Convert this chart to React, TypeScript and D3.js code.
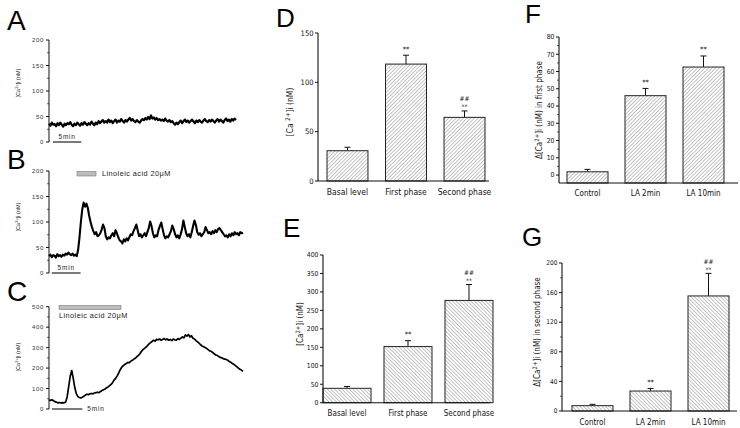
import React from "react";
import * as d3 from "d3";

// ---- data ----
const traceStep = 0.25; // minutes between samples

// panel A, basal [Ca2+]i (nM)
const traceA = [
  36, 32, 38, 34, 35, 31, 37, 33, 38, 34, 30, 36, 33, 37, 35, 39, 34, 31, 36, 33,
  38, 35, 32, 37, 34, 39, 36, 33, 37, 34, 40, 36, 33, 38, 35, 41, 37, 40, 43, 38,
  41, 38, 44, 39, 42, 37, 41, 44, 38, 42, 40, 45, 41, 38, 43, 40, 44, 47, 42, 45,
  41, 39, 43, 40, 38, 42, 45, 43, 47, 44, 49, 45, 52, 46, 48, 44, 47, 43, 45, 42,
  44, 41, 46, 42, 40, 43, 39, 41, 37, 34, 38, 35, 39, 42, 37, 41, 44, 39, 42, 38,
  41, 44, 40, 37, 42, 39, 43, 40, 38, 42, 45, 41, 39, 43, 40, 44, 41, 38, 42, 45,
  40, 44, 41, 38, 43, 46, 41, 44, 40, 45, 42, 46, 43,
];

// panel B, linoleic acid 20uM, oscillating response
const traceB = [
  33, 36, 31, 35, 34, 30, 37, 33, 35, 32, 36, 34, 38, 36, 40, 37, 35, 38, 34, 36,
  33, 45, 70, 100, 125, 138, 130, 136, 128, 112, 100, 90, 82, 76, 80, 72, 74, 78, 85, 95,
  88, 72, 66, 70, 68, 74, 78, 72, 84, 78, 70, 64, 62, 58, 66, 62, 68, 64, 70, 76,
  74, 82, 88, 95, 84, 72, 76, 70, 74, 78, 72, 80, 88, 101, 92, 78, 70, 74, 72, 84,
  92, 99, 86, 74, 68, 72, 70, 76, 82, 93, 86, 76, 70, 74, 68, 76, 86, 103, 90, 78,
  72, 76, 70, 80, 92, 103, 94, 80, 75, 78, 72, 76, 80, 90, 84, 78, 80, 76, 82, 78,
  84, 80, 86, 88, 84, 80, 76, 72, 74, 70, 76, 72, 78, 74, 80, 76, 78, 74, 80, 78,
  79,
];

// panel C, linoleic acid 20uM, sustained response
const traceC = [
  44, 42, 45, 40, 36, 33, 30, 32, 29, 31, 30, 34, 60, 110, 160, 188, 150, 105, 75, 62,
  56, 54, 58, 62, 68, 72, 70, 74, 76, 74, 78, 80, 82, 80, 86, 90, 94, 98, 104, 108,
  114, 120, 130, 142, 150, 162, 176, 192, 205, 212, 218, 222, 228, 226, 234, 238, 244, 248, 256, 262,
  270, 282, 290, 296, 302, 310, 318, 324, 330, 336, 332, 340, 338, 342, 336, 340, 344, 338, 342, 336,
  340, 334, 342, 338, 336, 344, 340, 346, 352, 348, 362, 356, 364, 352, 358, 346, 342, 334, 328, 322,
  314, 308, 304, 300, 296, 290, 284, 282, 276, 270, 264, 262, 256, 252, 250, 246, 244, 242, 238, 232,
  228, 222, 218, 212, 206, 200, 194, 190, 184,
];

const phaseCategories = ["Basal level", "First phase", "Second phase"];
const laCategories = ["Control", "LA 2min", "LA 10min"];

const valuesD = [30.7, 118.5, 64.5];
const errorsD = [3.5, 9, 6.5];
const marksD = [[], ["**"], ["##", "**"]];

const valuesE = [39, 152, 277];
const errorsE = [5, 16, 43];
const marksE = [[], ["**"], ["##", "**"]];

const valuesF = [1.9, 46, 62.6];
const errorsF = [1.4, 4.2, 6.4];
const marksF = [[], ["**"], ["**"]];

const valuesG = [7.2, 27, 155.5];
const errorsG = [1.8, 3.5, 30.5];
const marksG = [[], ["**"], ["##", "**"]];

// ---- styles ----
const sansFont = "'Liberation Sans', Arial, sans-serif";
const narrowFont = "'Liberation Sans Narrow', 'Arial Narrow', 'DejaVu Sans Condensed', sans-serif";
const ink = "#111";

function CaLabel({ x, y, size, prefix, suffix, gap }: any) {
  return (
    <text transform={`translate(${x},${y}) rotate(-90)`} textAnchor="middle" fontSize={size} fill={ink}>
      {prefix}[Ca{gap ? " " : ""}
      <tspan dy={-size * 0.4} fontSize={size * 0.75}>2+</tspan>
      <tspan dy={size * 0.4}>]i (nM){suffix}</tspan>
    </text>
  );
}

function TracePanel(p: any) {
  const x = d3.scaleLinear().domain([0, p.tMax]).range(p.xRange);
  const y = d3.scaleLinear().domain([0, p.yMax]).range([p.yBottom, p.yTop]);
  const line = d3
    .line<number>()
    .x((_, i) => x(i * traceStep))
    .y(d => y(d));
  const major = d3.range(0, p.yMax + 1, p.majorStep);
  const minor = d3.range(p.majorStep / 2, p.yMax, p.majorStep);
  const ax = p.xRange[0];
  const bx0 = x(p.barT[0]);
  const bx1 = x(p.barT[1]);
  return (
    <g fontFamily={sansFont}>
      <text x={p.letterPos[0]} y={p.letterPos[1]} fontSize={28} fill="#000">
        {p.letter}
      </text>
      <line x1={ax} x2={ax} y1={y(p.yMax)} y2={y(0)} stroke={ink} strokeWidth={1} />
      {major.map(v => (
        <g key={v}>
          <line x1={ax - 3} x2={ax} y1={y(v)} y2={y(v)} stroke={ink} />
          <text
            x={ax - 5}
            y={y(v)}
            dy="0.35em"
            textAnchor="end"
            fontSize={6}
            letterSpacing={0.7}
            fill="#333"
          >
            {v}
          </text>
        </g>
      ))}
      {minor.map(v => (
        <line key={v} x1={ax - 1.8} x2={ax} y1={y(v)} y2={y(v)} stroke={ink} strokeWidth={0.8} />
      ))}
      <CaLabel x={20} y={p.labelY} size={5.5} prefix="" suffix="" />
      <path d={line(p.data) || ""} fill="none" stroke="#000" strokeWidth={p.lineWidth} strokeLinejoin="round" />
      <line x1={bx0} x2={bx1} y1={y(0)} y2={y(0)} stroke="#222" strokeWidth={1.2} />
      {p.barLabelRight ? (
        <text x={bx1 + 5} y={y(0) + 2} fontSize={6.5} letterSpacing={0.8} fill="#222">5min</text>
      ) : (
        <text x={(bx0 + bx1) / 2} y={y(0) - 3} textAnchor="middle" fontSize={6.5} letterSpacing={0.8} fill="#222">
          5min
        </text>
      )}
      {p.legend && (
        <g>
          <rect
            x={p.legend.rect[0]}
            y={p.legend.rect[1]}
            width={p.legend.rect[2]}
            height={p.legend.rect[3]}
            fill="#bdbdbd"
            stroke="#666"
            strokeWidth={0.5}
          />
          <text x={p.legend.text[0]} y={p.legend.text[1]} fontSize={7.3} letterSpacing={0.45} fill="#222">
            Linoleic acid 20μM
          </text>
        </g>
      )}
    </g>
  );
}

function BarPanel(p: any) {
  const x = d3
    .scaleBand<string>()
    .domain(p.cats)
    .range(p.bandRange)
    .paddingInner(p.padIn)
    .paddingOuter(p.padOut);
  const y = d3.scaleLinear().domain(p.yDomain).range([p.yBottom, p.yTop]);
  const ax = p.bandRange[0];
  const base = y(p.yDomain[0]);
  const hw = 3;
  return (
    <g fontFamily={narrowFont}>
      <text x={p.letterPos[0]} y={p.letterPos[1]} fontSize={26} fontFamily={sansFont} fill="#000">
        {p.letter}
      </text>
      {p.cats.map((c: string, i: number) => {
        const bx = x(c)!;
        const cx = bx + x.bandwidth() / 2;
        const top = y(p.values[i]);
        const cap = y(p.values[i] + p.errors[i]);
        const marks: string[] = p.marks[i];
        const stacked = marks.length > 1;
        return (
          <g key={c}>
            <line x1={cx} x2={cx} y1={top} y2={cap} stroke={ink} strokeWidth={1} />
            <line x1={cx - hw} x2={cx + hw} y1={cap} y2={cap} stroke={ink} strokeWidth={1} />
            <rect
              x={bx}
              y={top}
              width={x.bandwidth()}
              height={base - top}
              fill={`url(#${p.hatch})`}
              stroke="#222"
              strokeWidth={1}
            />
            {marks.map((m, j) => (
              <text
                key={j}
                x={cx}
                y={cap - (stacked ? 1.5 : 3.5) - (marks.length - 1 - j) * 8}
                textAnchor="middle"
                fontSize={stacked ? 6.5 : 7.5}
                fill="#222"
              >
                {m}
              </text>
            ))}
            <text x={cx} y={p.catY} textAnchor="middle" fontSize={p.catSize} fill={ink}>
              {c}
            </text>
          </g>
        );
      })}
      <line x1={ax} x2={ax} y1={p.yTop} y2={base} stroke={ink} strokeWidth={1.1} />
      <line x1={ax} x2={p.axisEnd} y1={base} y2={base} stroke={ink} strokeWidth={1.1} />
      {p.ticks.map((v: number) => (
        <g key={v}>
          <line x1={ax - 3} x2={ax} y1={y(v)} y2={y(v)} stroke={ink} />
          <text x={ax - 4.5} y={y(v)} dy="0.35em" textAnchor="end" fontSize={p.tickSize} fill={ink}>
            {v}
          </text>
        </g>
      ))}
      {(p.minor || []).map((v: number) => (
        <line key={v} x1={ax - 1.8} x2={ax} y1={y(v)} y2={y(v)} stroke={ink} strokeWidth={0.8} />
      ))}
      <CaLabel
        x={p.labelPos[0]}
        y={p.labelPos[1]}
        size={p.labelSize}
        prefix={p.delta ? "Δ" : ""}
        suffix={p.suffix || ""}
        gap={p.gap}
      />
    </g>
  );
}

export default function App() {
  return (
    <svg
      width={740}
      height={428}
      style={{ position: "absolute", left: 0, top: 0, background: "#fff" }}
    >
      <defs>
        <pattern id="hatchFwd" patternUnits="userSpaceOnUse" width={2.6} height={2.6} patternTransform="rotate(45)">
          <rect width={2.6} height={2.6} fill="#fff" />
          <line x1={0} y1={0} x2={0} y2={2.6} stroke="#6a6a6a" strokeWidth={0.8} />
        </pattern>
        <pattern id="hatchBack" patternUnits="userSpaceOnUse" width={2.6} height={2.6} patternTransform="rotate(-45)">
          <rect width={2.6} height={2.6} fill="#fff" />
          <line x1={0} y1={0} x2={0} y2={2.6} stroke="#6a6a6a" strokeWidth={0.8} />
        </pattern>
      </defs>
      <rect width={740} height={428} fill="#fff" />

      <TracePanel
        letter="A"
        letterPos={[7, 30]}
        data={traceA}
        tMax={33}
        xRange={[49, 236]}
        yMax={200}
        yTop={40}
        yBottom={142}
        majorStep={50}
        labelY={83}
        barT={[0.7, 5.7]}
        lineWidth={2.2}
      />
      <TracePanel
        letter="B"
        letterPos={[7, 169]}
        data={traceB}
        tMax={35}
        xRange={[49, 243]}
        yMax={200}
        yTop={171}
        yBottom={273}
        majorStep={50}
        labelY={217}
        barT={[0.5, 5.7]}
        lineWidth={2.1}
        legend={{ rect: [77, 171.5, 19, 4.5], text: [102, 176] }}
      />
      <TracePanel
        letter="C"
        letterPos={[7, 301]}
        data={traceC}
        tMax={32}
        xRange={[49, 243]}
        yMax={500}
        yTop={306.7}
        yBottom={409}
        majorStep={100}
        labelY={357}
        barT={[0.5, 5.5]}
        lineWidth={1.7}
        barLabelRight
        legend={{ rect: [59, 305.5, 62, 4], text: [59, 318] }}
      />

      <BarPanel
        letter="D"
        letterPos={[276, 27]}
        cats={phaseCategories}
        values={valuesD}
        errors={errorsD}
        marks={marksD}
        yDomain={[0, 150]}
        ticks={[0, 50, 100, 150]}
        yTop={33}
        yBottom={181}
        bandRange={[318, 494]}
        padIn={0.3}
        padOut={0.154}
        axisEnd={489}
        hatch="hatchFwd"
        labelPos={[293, 112]}
        labelSize={8.5}
        gap
        catY={195}
        catSize={8.5}
        tickSize={7.5}
      />
      <BarPanel
        letter="E"
        letterPos={[283, 237]}
        cats={phaseCategories}
        values={valuesE}
        errors={errorsE}
        marks={marksE}
        yDomain={[0, 400]}
        ticks={d3.range(0, 401, 50)}
        yTop={255}
        yBottom={402.7}
        bandRange={[323, 493]}
        padIn={0.213}
        padOut={0}
        axisEnd={490}
        hatch="hatchBack"
        labelPos={[303, 324]}
        labelSize={8}
        catY={416}
        catSize={8}
        tickSize={6.8}
      />
      <BarPanel
        letter="F"
        letterPos={[525, 23]}
        cats={laCategories}
        values={valuesF}
        errors={errorsF}
        marks={marksF}
        yDomain={[-4.6, 80]}
        ticks={d3.range(0, 81, 10)}
        minor={d3.range(5, 80, 10)}
        yTop={37}
        yBottom={183}
        bandRange={[559, 732]}
        padIn={0.293}
        padOut={0.138}
        axisEnd={738}
        hatch="hatchFwd"
        labelPos={[542, 110]}
        labelSize={8}
        delta
        suffix=" in first phase"
        catY={196}
        catSize={8}
        tickSize={6.8}
      />
      <BarPanel
        letter="G"
        letterPos={[522, 246]}
        cats={laCategories}
        values={valuesG}
        errors={errorsG}
        marks={marksG}
        yDomain={[0, 200]}
        ticks={d3.range(0, 201, 40)}
        minor={d3.range(20, 200, 40)}
        yTop={263}
        yBottom={411}
        bandRange={[562, 739]}
        padIn={0.293}
        padOut={0.172}
        axisEnd={737}
        hatch="hatchBack"
        labelPos={[540, 332]}
        labelSize={8}
        delta
        suffix=" in second phase"
        catY={425}
        catSize={8}
        tickSize={6.5}
      />
    </svg>
  );
}
